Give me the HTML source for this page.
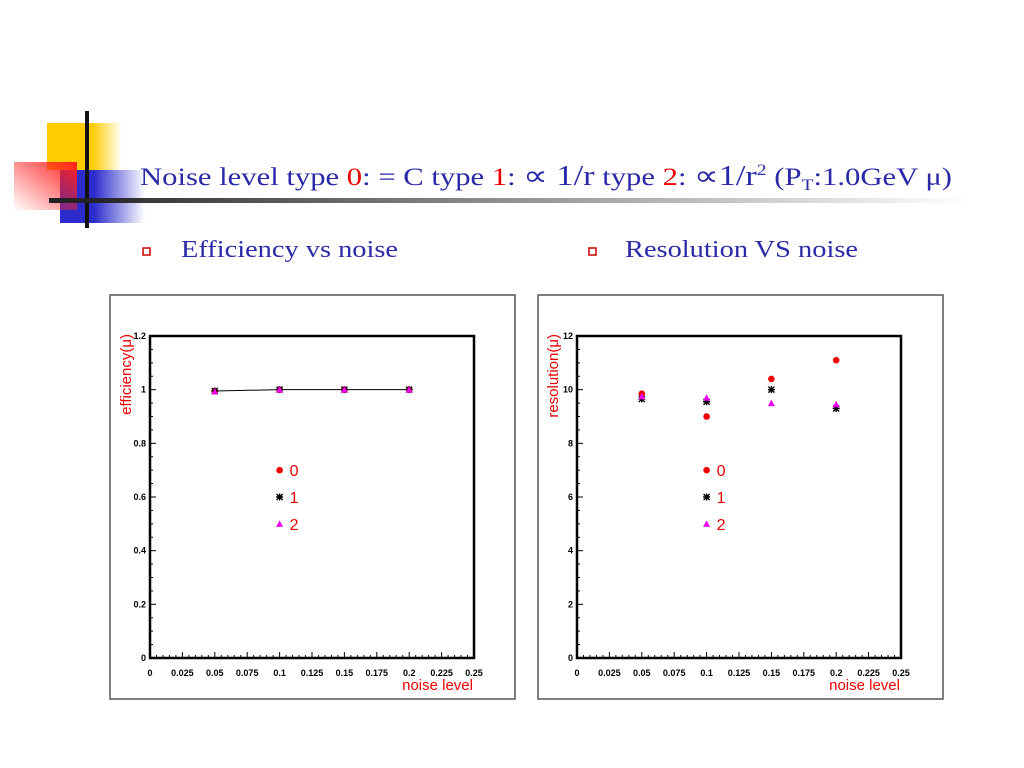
<!DOCTYPE html>
<html><head><meta charset="utf-8"><style>
body{margin:0;background:#fff}
svg{display:block}
text{font-family:"Liberation Sans",sans-serif}
.serif{font-family:"Liberation Serif",serif}
</style></head><body>
<svg id="s" width="1024" height="768" viewBox="0 0 1024 768">
<defs>
<linearGradient id="gy" x1="0" x2="1"><stop offset="0.6" stop-color="#ffcc00"/><stop offset="1" stop-color="#ffcc00" stop-opacity="0"/></linearGradient>
<linearGradient id="gr" x1="1" y1="0" x2="0" y2="1"><stop offset="0" stop-color="#ff2020"/><stop offset="1" stop-color="#ff2020" stop-opacity="0"/></linearGradient>
<linearGradient id="gb" x1="0" x2="1"><stop offset="0.4" stop-color="#2c2ccc"/><stop offset="1" stop-color="#2c2ccc" stop-opacity="0"/></linearGradient>
<linearGradient id="gl" x1="0" x2="1"><stop offset="0" stop-color="#222"/><stop offset="1" stop-color="#222" stop-opacity="0"/></linearGradient>
</defs>
<g>
<rect x="47" y="123" width="75" height="47" fill="url(#gy)"/>
<rect x="60" y="170" width="85" height="53" fill="url(#gb)"/>
<rect x="14" y="162" width="63" height="48" fill="url(#gr)"/>
<rect x="85" y="111" width="4" height="117" fill="#111"/>
<rect x="49" y="198" width="920" height="5" fill="url(#gl)"/>
</g>
<text class="serif" x="140" y="185" font-size="25" fill="#2a2aa8" textLength="812" lengthAdjust="spacingAndGlyphs">Noise level type <tspan fill="#e00">0</tspan>: = C  type <tspan fill="#e00">1</tspan>: <tspan font-size="28">∝ 1/r</tspan>  type <tspan fill="#e00">2</tspan>: <tspan font-size="28">∝1/r</tspan><tspan font-size="16" dy="-10">2</tspan><tspan dy="10"> (P</tspan><tspan font-size="16" dy="5">T</tspan><tspan dy="-5">:1.0GeV μ)</tspan></text>
<rect x="143" y="248" width="7" height="7" fill="none" stroke="#c00" stroke-width="1.5"/>
<text class="serif" x="181" y="257" font-size="24" fill="#2a2aa8" textLength="217" lengthAdjust="spacingAndGlyphs">Efficiency vs noise</text>
<rect x="589" y="248" width="7" height="7" fill="none" stroke="#c00" stroke-width="1.5"/>
<text class="serif" x="625" y="257" font-size="24" fill="#2a2aa8" textLength="233" lengthAdjust="spacingAndGlyphs">Resolution VS noise</text>
<g id="charts"></g>
</svg>
<script>
const xTicks=["0","0.025","0.05","0.075","0.1","0.125","0.15","0.175","0.2","0.225","0.25"];
const noise=[0.05,0.1,0.15,0.2];
const eff0=[0.995,1.0,1.0,1.0];
const eff1=[0.995,1.0,1.0,1.0];
const eff2=[0.993,1.0,1.0,1.0];
const effTicks=["0","0.2","0.4","0.6","0.8","1","1.2"];
const res0=[9.85,9.0,10.4,11.1];
const res1=[9.65,9.55,10.0,9.3];
const res2=[9.75,9.7,9.5,9.45];
const resTicks=["0","2","4","6","8","10","12"];
const legendLabels=["0","1","2"];
const NS="http://www.w3.org/2000/svg";
const root=document.getElementById('charts');
function mk(tag,attrs,parent){const e=document.createElementNS(NS,tag);for(const k in attrs)e.setAttribute(k,attrs[k]);(parent||root).appendChild(e);return e;}
function marker(g,type,cx,cy){
 if(type===0){const c=mk('circle',{cx:cx,cy:cy,r:3.3,fill:'#e00'},g);
  
  }
 else if(type===1){const p=mk('path',{d:`M${cx-3} ${cy-3}L${cx+3} ${cy+3}M${cx+3} ${cy-3}L${cx-3} ${cy+3}M${cx} ${cy-3.5}V${cy+3.5}M${cx-3.5} ${cy}H${cx+3.5}`,stroke:'#000','stroke-width':1.4},g);
  
  }
 else {const p=mk('path',{d:`M${cx} ${cy-3.5}L${cx+3.5} ${cy+3}L${cx-3.5} ${cy+3}Z`,fill:'#e0e'},g);
  
  }
}
function chart(name,px,fx,ymax,yTicks,series,ytitle,drawLine){
 const g=mk('g',{});
 
 
 const panel=mk('rect',{x:px,y:295,width:405,height:404,fill:'#fff',stroke:'#555','stroke-width':1.5},g);
 
 
 const L=fx,R=fx+324,T=336,B=658;
 const X=v=>L+(v/0.25)*(R-L), Y=v=>B-(v/ymax)*(B-T);
 const fr=mk('rect',{x:L,y:T,width:R-L,height:B-T,fill:'none',stroke:'#000','stroke-width':2.5},g);
 
 
 for(let i=0;i<=50;i++){const x=L+i*(R-L)/50;const len=i%5===0?6:3;mk('line',{x1:x,x2:x,y1:B,y2:B-len,stroke:'#000','stroke-width':1},g);}
 for(let i=0;i<=24;i++){const y=B-i*(B-T)/24;const len=i%4===0?6:3;mk('line',{x1:L,x2:L+len,y1:y,y2:y,stroke:'#000','stroke-width':1},g);}
 xTicks.forEach((t,i)=>{const tx=mk('text',{x:X(i*0.025),y:B+18,'font-size':9,'font-weight':'bold','text-anchor':'middle'},g);tx.textContent=t;
  
  });
 yTicks.forEach((t,i)=>{const v=ymax*i/(yTicks.length-1);const tx=mk('text',{x:L-4,y:Y(v)+3,'font-size':9,'font-weight':'bold','text-anchor':'end'},g);tx.textContent=t;
  
  });
 const xt=mk('text',{x:R-1,y:B+32,'font-size':15,fill:'#e00','text-anchor':'end'},g);xt.textContent='noise level';
 
 
 const yt=mk('text',{x:0,y:0,'font-size':15,fill:'#e00','text-anchor':'end',transform:`translate(${L-19},${T-2}) rotate(-90)`},g);yt.textContent=ytitle;
 
 
 if(drawLine){const pl=mk('polyline',{points:noise.map((n,i)=>X(n)+','+Y(series[1][i])).join(' '),fill:'none',stroke:'#000','stroke-width':1},g);
  
  }
 series.forEach((s,k)=>s.forEach((v,i)=>marker(g,k,X(noise[i]),Y(v))));
 legendLabels.forEach((lab,k)=>{const ly=Y(ymax*(0.7-0.1*k)/1.2);marker(g,k,X(0.1),ly);
  const tx=mk('text',{x:X(0.1)+10,y:ly+6,'font-size':16,fill:'#e00'},g);tx.textContent=lab;
  
  });
}
chart('efficiency-chart',110,150,1.2,effTicks,[eff0,eff1,eff2],'efficiency(μ)',true);
chart('resolution-chart',538,577,12,resTicks,[res0,res1,res2],'resolution(μ)',false);
</script>
</body></html>
